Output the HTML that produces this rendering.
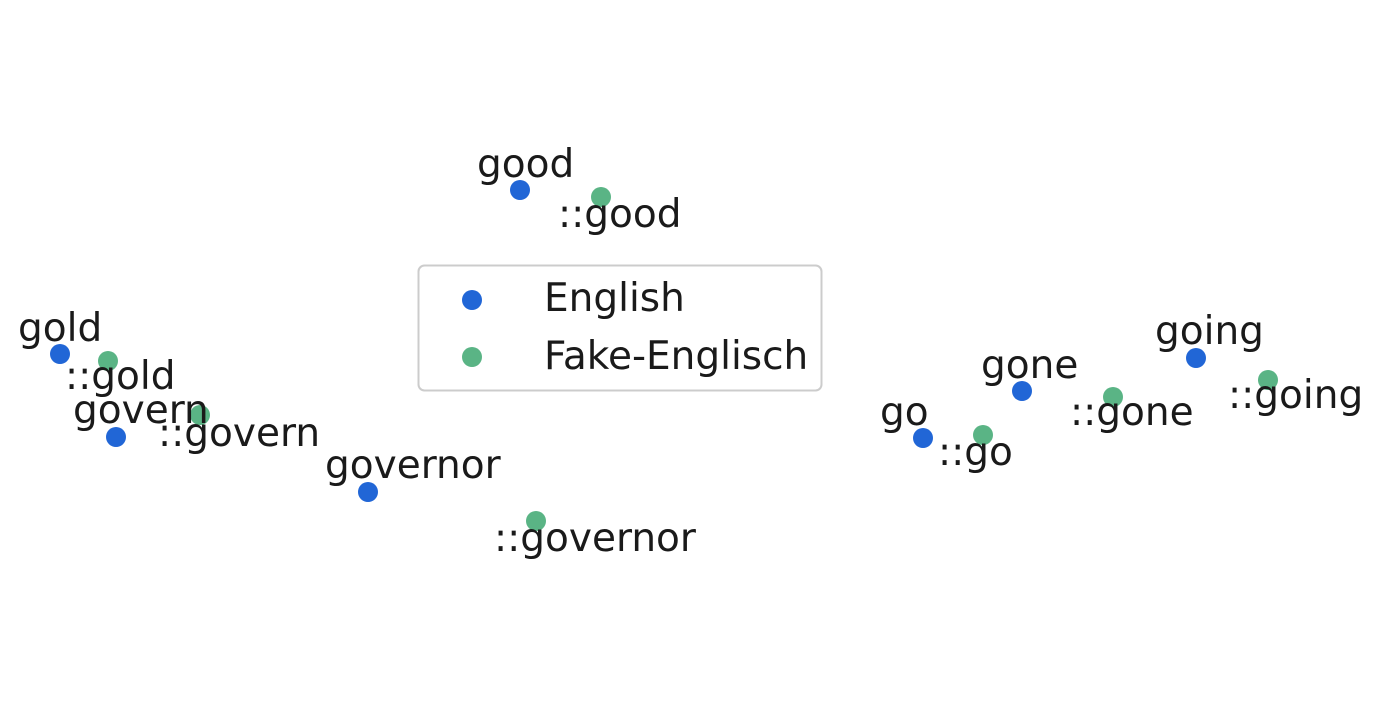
<!DOCTYPE html>
<html><head><meta charset="utf-8"><style>
html,body{margin:0;padding:0;background:#fff;}
svg text{font-family:"DejaVu Sans","Liberation Sans",sans-serif;font-size:39px;fill:#1a1a1a;}
</style></head><body>
<svg width="1400" height="700" xmlns="http://www.w3.org/2000/svg">
<g fill="#2166d6">
<circle cx="520" cy="190" r="10"/><circle cx="60" cy="354" r="10"/><circle cx="116" cy="437" r="10"/>
<circle cx="368" cy="492" r="10"/><circle cx="923" cy="438" r="10"/><circle cx="1022" cy="391" r="10"/>
<circle cx="1196" cy="358" r="10"/>
</g>
<g fill="#5ab485">
<circle cx="601" cy="197" r="10"/><circle cx="108" cy="361" r="10"/><circle cx="200" cy="415" r="10"/>
<circle cx="536" cy="521" r="10"/><circle cx="983" cy="435" r="10"/><circle cx="1113" cy="397" r="10"/>
<circle cx="1268" cy="380" r="10"/>
</g>
<text x="477" y="177">good</text>
<text x="558" y="227">::good</text>
<text x="18" y="341">gold</text>
<text x="65" y="389">::gold</text>
<text x="73" y="423">govern</text>
<text x="158" y="446">::govern</text>
<text x="325" y="478">governor</text>
<text x="494" y="551">::governor</text>
<text x="880" y="425">go</text>
<text x="938" y="465">::go</text>
<text x="981" y="378">gone</text>
<text x="1070" y="425">::gone</text>
<text x="1155" y="344">going</text>
<text x="1228" y="408">::going</text>
<rect x="418.5" y="265.5" width="403" height="125" rx="6" fill="#fff" fill-opacity="0.8" stroke="#cccccc" stroke-width="2"/>
<circle cx="472" cy="300" r="10" fill="#2166d6"/>
<circle cx="472" cy="357" r="10" fill="#5ab485"/>
<text x="544" y="311">English</text>
<text x="544" y="369">Fake-Englisch</text>
</svg>
</body></html>
